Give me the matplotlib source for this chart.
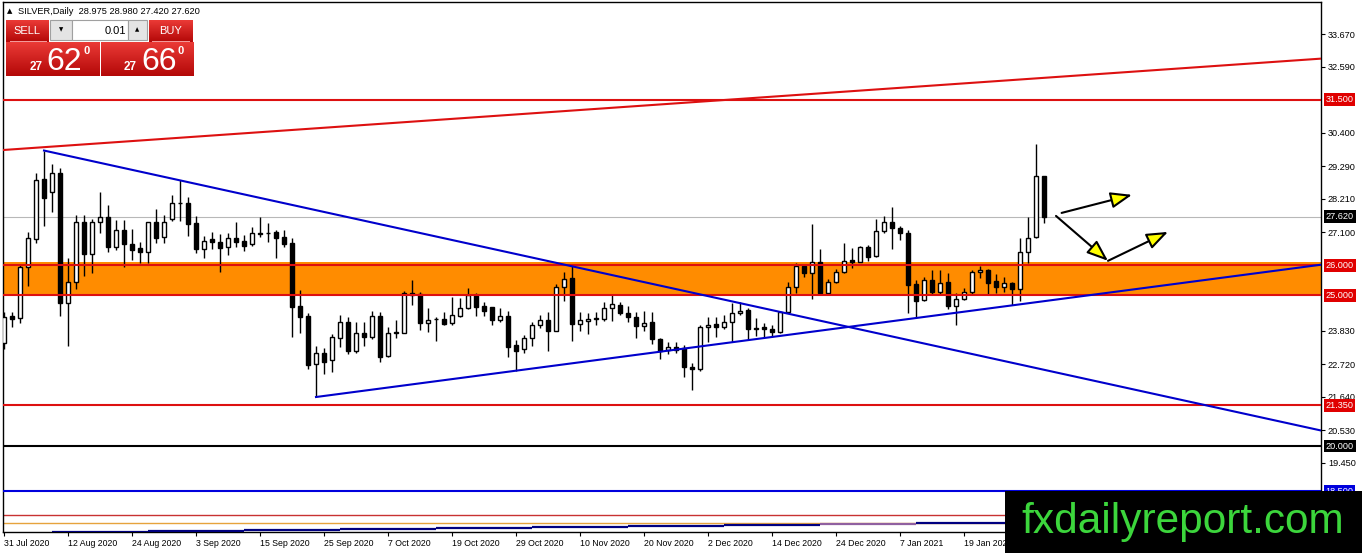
import numpy as np
import matplotlib.pyplot as plt
from matplotlib.patches import Rectangle
from matplotlib.colors import LinearSegmentedColormap
from matplotlib.transforms import blended_transform_factory

plt.rcParams['font.family'] = ['Liberation Sans', 'DejaVu Sans']

W, H = 1362, 553

# SILVER daily candles, 31 Jul 2020 .. 2 Feb 2021
opens = [
    23.41, 24.32, 24.24, 25.96, 26.86, 28.86, 28.43, 29.08, 24.74, 25.44,
    27.43, 26.37, 27.43, 27.60, 26.62, 27.17, 26.70, 26.59, 26.45, 27.43,
    26.95, 27.53, 28.08, 28.06, 27.40, 26.53, 26.88, 26.79, 26.60, 26.90,
    26.81, 26.70, 27.06, 27.08, 27.10, 26.95, 26.73, 24.65, 24.32, 22.72,
    23.08, 22.86, 23.58, 24.11, 23.16, 23.74, 23.63, 24.32, 22.99, 23.80,
    23.76, 25.09, 25.05, 24.08, 24.21, 24.21, 24.08, 24.33, 24.57, 25.02,
    24.65, 24.61, 24.19, 24.32, 23.36, 23.21, 23.58, 24.02, 24.19, 23.83,
    25.29, 25.57, 24.04, 24.16, 24.22, 24.21, 24.57, 24.68, 24.41, 24.28,
    24.00, 24.11, 23.55, 23.19, 23.28, 23.25, 22.64, 22.55, 23.94, 24.05,
    23.96, 24.11, 24.41, 24.52, 23.93, 23.96, 23.89, 23.78, 24.44, 25.27,
    25.98, 25.74, 26.10, 25.09, 25.46, 25.79, 26.18, 26.12, 26.60, 26.31,
    27.15, 27.45, 27.23, 27.08, 25.38, 24.85, 25.51, 25.13, 25.46, 24.66,
    24.87, 25.13, 25.77, 25.85, 25.49, 25.27, 25.40, 25.21, 26.43, 26.93,
    28.975]
highs = [
    24.46, 24.46, 26.01, 27.12, 29.06, 29.81, 29.37, 29.22, 26.25, 27.67,
    27.67, 27.53, 28.45, 28.00, 27.51, 27.51, 27.21, 26.79, 27.45, 27.86,
    27.67, 28.34, 28.83, 28.26, 27.64, 26.97, 27.12, 27.04, 27.08, 27.43,
    27.01, 27.26, 27.60, 27.42, 27.17, 27.17, 26.90, 25.18, 24.41, 23.32,
    23.25, 23.72, 24.35, 24.28, 24.11, 24.13, 24.48, 24.46, 23.96, 24.19,
    25.16, 25.51, 25.13, 24.57, 24.28, 24.46, 24.94, 24.91, 25.24, 25.07,
    24.79, 24.63, 24.57, 24.49, 23.52, 23.69, 24.13, 24.35, 24.44, 25.38,
    25.79, 25.98, 24.44, 24.41, 24.44, 24.77, 25.05, 24.77, 24.66, 24.46,
    24.49, 24.44, 23.58, 23.46, 23.46, 23.36, 22.77, 24.02, 24.30, 24.30,
    24.35, 24.74, 24.79, 24.57, 24.24, 24.10, 24.02, 24.48, 25.46, 26.07,
    26.04, 27.37, 26.53, 25.54, 25.87, 26.73, 26.57, 26.64, 26.68, 27.53,
    27.64, 27.93, 27.31, 27.17, 25.51, 25.60, 25.85, 25.85, 25.74, 25.09,
    25.24, 25.85, 25.99, 25.88, 25.71, 25.60, 25.46, 26.90, 27.61, 30.03,
    28.98]
lows = [
    23.21, 23.96, 24.08, 25.31, 26.75, 27.32, 27.78, 24.33, 23.33, 25.21,
    25.66, 25.76, 27.06, 26.43, 26.51, 25.96, 26.18, 26.07, 26.07, 26.73,
    26.75, 27.48, 27.48, 26.97, 26.42, 26.25, 26.53, 25.79, 26.34, 26.62,
    26.49, 26.65, 26.95, 26.79, 26.23, 26.62, 23.63, 23.76, 22.55, 21.64,
    22.39, 22.47, 23.30, 23.06, 23.08, 23.32, 23.56, 22.80, 22.95, 23.58,
    23.74, 24.68, 23.85, 23.80, 23.50, 24.02, 24.02, 24.28, 24.55, 24.32,
    24.32, 24.02, 24.13, 22.97, 22.50, 23.10, 23.32, 23.91, 23.17, 23.82,
    24.83, 23.50, 23.83, 23.72, 24.02, 24.16, 24.16, 24.35, 24.13, 23.58,
    23.83, 23.39, 22.88, 23.06, 23.08, 22.28, 21.85, 22.50, 23.46, 23.63,
    23.88, 23.46, 24.35, 23.52, 23.65, 23.63, 23.63, 23.77, 24.41, 25.09,
    25.60, 24.88, 25.02, 25.02, 25.40, 25.76, 25.90, 26.10, 26.15, 26.27,
    27.06, 26.53, 26.84, 24.41, 24.24, 24.83, 25.04, 25.02, 24.54, 24.02,
    24.85, 25.05, 25.57, 25.02, 25.09, 25.13, 24.68, 24.82, 26.07, 26.92,
    27.42]
closes = [
    24.30, 24.21, 25.94, 26.90, 28.83, 28.23, 29.08, 24.74, 25.44, 27.43,
    26.37, 27.43, 27.60, 26.62, 27.17, 26.70, 26.51, 26.45, 27.43, 26.92,
    27.43, 28.06, 28.06, 27.36, 26.53, 26.82, 26.79, 26.59, 26.90, 26.79,
    26.65, 27.06, 27.05, 27.07, 26.92, 26.70, 24.63, 24.30, 22.69, 23.08,
    22.80, 23.61, 24.11, 23.17, 23.74, 23.63, 24.32, 22.97, 23.76, 23.74,
    25.09, 25.02, 24.08, 24.19, 24.22, 24.05, 24.35, 24.57, 25.02, 24.63,
    24.49, 24.19, 24.32, 23.30, 23.17, 23.58, 24.02, 24.19, 23.83, 25.29,
    25.54, 24.04, 24.19, 24.22, 24.23, 24.57, 24.72, 24.41, 24.28, 24.00,
    24.08, 23.55, 23.17, 23.28, 23.19, 22.64, 22.55, 23.96, 24.02, 23.96,
    24.11, 24.41, 24.48, 23.88, 23.88, 23.88, 23.78, 24.44, 25.27, 25.98,
    25.74, 26.10, 25.07, 25.46, 25.79, 26.15, 26.12, 26.60, 26.27, 27.15,
    27.45, 27.23, 27.06, 25.35, 24.83, 25.51, 25.13, 25.42, 24.65, 24.88,
    25.13, 25.77, 25.85, 25.42, 25.27, 25.40, 25.21, 26.43, 26.90, 28.97,
    27.62]

date_labels = ['31 Jul 2020', '12 Aug 2020', '24 Aug 2020', '3 Sep 2020',
               '15 Sep 2020', '25 Sep 2020', '7 Oct 2020', '19 Oct 2020',
               '29 Oct 2020', '10 Nov 2020', '20 Nov 2020', '2 Dec 2020',
               '14 Dec 2020', '24 Dec 2020', '7 Jan 2021', '19 Jan 2021']
price_ticks = [33.67, 32.59, 30.40, 29.29, 28.21, 27.10,
               23.83, 22.72, 21.64, 20.53, 19.45]

# horizontal levels and their label box colours
levels = [31.5, 26.0, 25.0, 21.35, 20.0, 18.5]
level_colors = ['#e00000', '#e00000', '#e00000', '#e00000', 'black', '#0000dd']
zone_low, zone_high = 25.0, 26.1
last_price = 27.62
bottom_levels = [17.71, 17.45]
bottom_colors = ['#c83232', '#e6a33c']

# trend lines as (bars, prices)
red_trend = ([0, 164.6], [29.83, 32.86])
blue_down = ([5, 164.6], [29.81, 20.52])
blue_up = ([39, 164.6], [21.63, 26.02])

# arrows: start bar, start price, end bar, end price
arrows = [(132.2, 27.74, 141.0, 28.34),
          (131.5, 27.64, 138.0, 26.15),
          (138.0, 26.15, 145.5, 27.11)]

# stepped indicator line near the bottom
step_bars = [6, 18, 30, 42, 54, 66, 78, 90, 102, 114, 126]
step_levels = [17.16, 17.18, 17.21, 17.24, 17.28, 17.31, 17.34, 17.38, 17.41, 17.45, 17.50]
step_colors = ['#000080'] * 8 + ['#9060a0', '#000080', '#000080']

fig = plt.figure(figsize=(W / 100, H / 100), dpi=100)
ax = fig.add_axes([3 / W, 1 - 532 / H, (1321 - 3) / W, (532 - 2) / H])
ax.set_xlim(-0.125, 164.625)
ax.set_ylim(17.15, 34.74)

# zone and levels
ax.axhspan(zone_low, zone_high, color='#ff8c00', lw=0, zorder=1)
ax.axhline(last_price, color='#b8b8b8', lw=0.8, zorder=2)
for v, col in zip(levels, level_colors):
    lc = 'black' if col == 'black' else ('#0000dd' if col == '#0000dd' else '#dd1010')
    ax.axhline(v, color=lc, lw=1.5, zorder=5)
for v, col in zip(bottom_levels, bottom_colors):
    ax.axhline(v, color=col, lw=1, zorder=2)
step_ends = step_bars[1:] + [140]
ax.hlines(step_levels, step_bars, step_ends, colors=step_colors, lw=1.6, zorder=3)

# candles
x = np.arange(len(opens))
o, h, l, c = map(np.array, (opens, highs, lows, closes))
up = c >= o
ax.vlines(x, l, h, color='black', lw=1, zorder=3)
body_lo = np.minimum(o, c)
body_h = np.maximum(np.abs(c - o), 0.02)
ax.bar(x[up], body_h[up], bottom=body_lo[up], width=0.62, color='white',
       edgecolor='black', linewidth=1, zorder=4)
ax.bar(x[~up], body_h[~up], bottom=body_lo[~up], width=0.62, color='black',
       edgecolor='black', linewidth=1, zorder=4)

# trend lines
ax.plot(*red_trend, color='#dd1010', lw=1.5, zorder=5)
ax.plot(*blue_down, color='#0000cc', lw=1.5, zorder=5)
ax.plot(*blue_up, color='#0000cc', lw=1.5, zorder=5)

for x0, p0, x1, p1 in arrows:
    ax.annotate('', xy=(x1, p1), xytext=(x0, p0), zorder=6,
                arrowprops=dict(arrowstyle='-|>,head_length=1.0,head_width=0.38',
                                mutation_scale=13, fc='#ffff00', ec='black',
                                lw=1.5, shrinkA=0, shrinkB=0))

# axes styling
for s in ax.spines.values():
    s.set_color('black')
    s.set_linewidth(1)
ax.yaxis.tick_right()
ax.set_yticks(price_ticks)
ax.set_yticklabels([f'{v:.3f}' for v in price_ticks])
ax.tick_params(axis='y', length=3, width=0.8, pad=2, labelsize=6.6, direction='out')
ax.set_xticks(np.arange(0, 8 * len(date_labels), 8))
ax.set_xticklabels(date_labels, ha='left')
ax.tick_params(axis='x', length=3, width=0.8, pad=2, labelsize=6.3, direction='out')

trans = blended_transform_factory(ax.transAxes, ax.transData)
for v, col in list(zip(levels, level_colors)) + [(last_price, 'black')]:
    ax.text(1.0035, v, f'{v:.3f}', transform=trans, ha='left', va='center',
            fontsize=6.6, color='white', clip_on=False, zorder=10,
            bbox=dict(boxstyle='square,pad=0.2', fc=col, ec='none'))

# header and one-click trading panel
def px_rect(x0, y0, w, hh, **kw):
    fig.add_artist(Rectangle((x0 / W, 1 - (y0 + hh) / H), w / W, hh / H,
                             transform=fig.transFigure, **kw))

def px_text(x0, y0, s, **kw):
    fig.text(x0 / W, 1 - y0 / H, s, **kw)

red_grad = LinearSegmentedColormap.from_list('btn', ['#ea3a36', '#b40808'])

def grad_box(x0, y0, w, hh):
    bax = fig.add_axes([x0 / W, 1 - (y0 + hh) / H, w / W, hh / H])
    bax.imshow(np.linspace(0, 1, 32).reshape(-1, 1), aspect='auto',
               cmap=red_grad, extent=(0, 1, 0, 1))
    bax.axis('off')

px_text(10, 11, '▲', fontsize=5, va='center', ha='center', family=['DejaVu Sans'])
px_text(18, 11, 'SILVER,Daily  28.975 28.980 27.420 27.620', fontsize=6.7, va='center')

grad_box(6, 20, 43, 22)
grad_box(149, 20, 44, 22)
grad_box(6, 42, 93, 34)
grad_box(101, 42, 92, 34)
px_rect(10, 41.5, 37, 0.8, fc='#f29a9a', ec='none')
px_rect(152, 41.5, 38, 0.8, fc='#f29a9a', ec='none')
px_rect(50, 20, 22, 20, fc='#e4e4e4', ec='#a0a0a0', lw=0.8)
px_rect(72, 20, 56, 20, fc='white', ec='#a0a0a0', lw=0.8)
px_rect(128, 20, 19, 20, fc='#e4e4e4', ec='#a0a0a0', lw=0.8)
px_text(61, 30, '▼', fontsize=4, ha='center', va='center', family=['DejaVu Sans'])
px_text(137.5, 30, '▲', fontsize=4, ha='center', va='center', family=['DejaVu Sans'])
px_text(126, 30.5, '0.01', fontsize=8, ha='right', va='center')
px_text(27, 31, 'SELL', fontsize=8, ha='center', va='center', color='white')
px_text(171, 31, 'BUY', fontsize=8, ha='center', va='center', color='white')

px_text(36.5, 70, '27', fontsize=8.5, ha='center', va='baseline', color='white', weight='bold')
px_text(46, 70, '62', fontsize=23, ha='left', va='baseline', color='white')
px_text(87, 51, '0', fontsize=8, ha='center', va='center', color='white', weight='bold')
px_text(130.5, 70, '27', fontsize=8.5, ha='center', va='baseline', color='white', weight='bold')
px_text(141, 70, '66', fontsize=23, ha='left', va='baseline', color='white')
px_text(181, 51, '0', fontsize=8, ha='center', va='center', color='white', weight='bold')

# watermark
px_rect(1005, 491, 357, 62, fc='black', ec='none', zorder=20)
px_text(1183, 533, 'fxdailyreport.com', fontsize=30.5, ha='center', va='baseline',
        color='#3cd63c', zorder=21)

fig.savefig('out.png', dpi=100)
